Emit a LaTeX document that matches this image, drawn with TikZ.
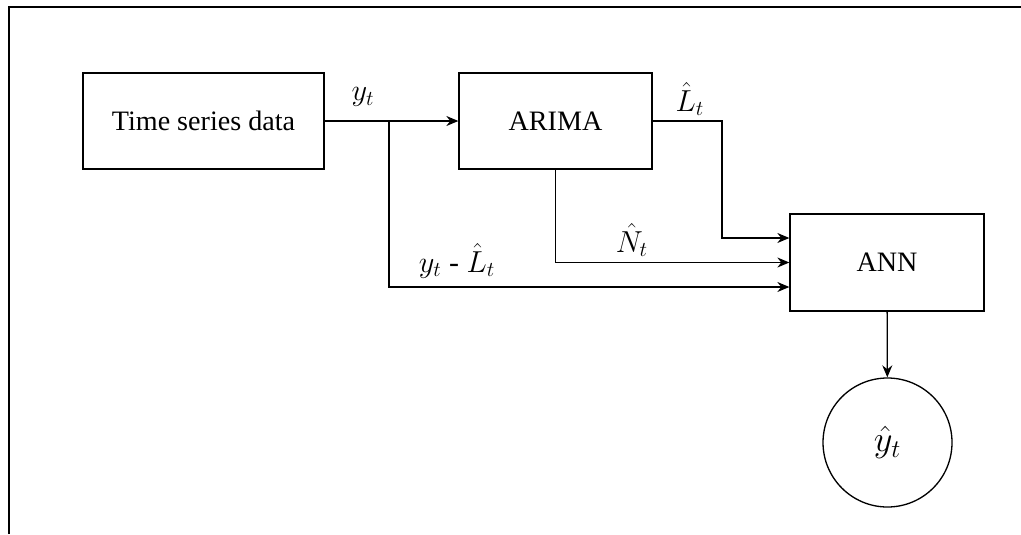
\documentclass[tikz,border=0pt]{standalone}
\usepackage{fontspec}
\setmainfont{Liberation Serif}
\usetikzlibrary{arrows.meta, positioning, calc}

\begin{document}
\begin{tikzpicture}[
  block/.style={draw, line width=0.75pt, minimum width=4.82cm, minimum height=1.92cm, font=\fontsize{16}{19}\selectfont},
  link/.style={line width=0.75pt, -{Stealth[length=0.24cm, width=0.2cm]}},
  lbl/.style={font=\fontsize{17}{20}\selectfont}
]
  \useasboundingbox (0,0) rectangle (20.42,-10.68);
  % Frame
  \draw[line width=1pt] (0.18,-10.68) -- (0.18,-0.14) -- (20.42,-0.14);

  % Blocks
  \node[block] (data) at (4.07,-2.42) {Time series data};
  \node[block, minimum width=3.86cm] (arima) at (11.11,-2.42) {ARIMA};
  \node[block, minimum width=3.88cm, minimum height=1.94cm] (ann) at (17.74,-5.25) {ANN};
  \node[draw, circle, line width=0.75pt, minimum size=2.58cm, font=\fontsize{20}{24}\selectfont] (out) at (17.75,-8.85) {$\hat{y}_t$};

  % Connectors
  \coordinate (split) at (7.78,-2.42);
  \coordinate (bendL) at (14.44,-2.42);
  \draw[link] (data) -- (arima);
  \draw[link] (arima) -- (bendL) |- ($(ann.west)+(0,0.49)$);
  \draw[link] (arima.south) |- (ann.west);
  \draw[link] (split) |- ($(ann.west)+(0,-0.49)$);
  \draw[link] (ann) -- (out);

  % Labels
  \node[lbl] (ylab) at (7.26,-1.94) {$y_t$};
  \node[lbl] (llab) at (13.8,-1.98) {$\hat{L}_t$};
  \node[lbl] (nlab) at (12.64,-4.8) {$\hat{N}_t$};
  \node[lbl] (dlab) at (9.14,-5.22) {$y_t$ - $\hat{L}_t$};
\end{tikzpicture}
\end{document}
